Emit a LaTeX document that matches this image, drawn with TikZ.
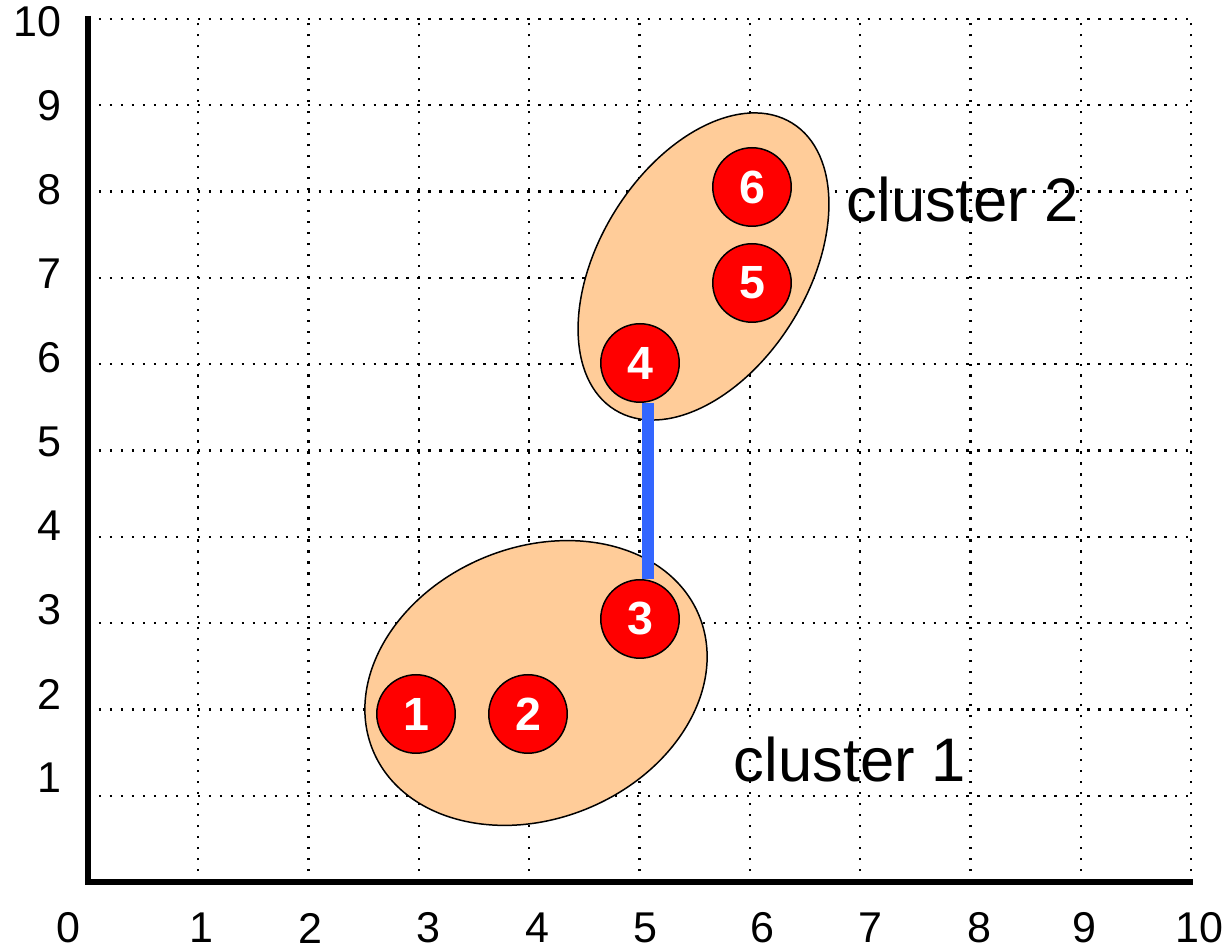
\documentclass[tikz,border=0pt]{standalone}
\usepackage{fontspec}
\setmainfont{Liberation Sans}
\usetikzlibrary{backgrounds}
\definecolor{peach}{HTML}{FFCC99}
\definecolor{lineblue}{HTML}{3366FF}
\definecolor{ptred}{HTML}{FF0000}
\begin{document}
\begin{tikzpicture}[x=0.02cm,y=0.02cm,
  griddot/.style={line width=1.35pt, dash pattern=on 1.35pt off 4.9pt, black},
  axisline/.style={line width=2.9pt, black, line join=miter},
  clusterfill/.style={fill=peach, draw=black, line width=0.85pt},
  datapt/.style={circle, fill=ptred, draw=black, line width=0.85pt, minimum size=1.57cm, inner sep=0pt,
    text=white, font=\fontsize{26.5}{30}\selectfont\bfseries},
  ticklabel/.style={font=\fontsize{24.5}{28}\selectfont, inner sep=0pt},
  clusterlabel/.style={font=\fontsize{35}{40}\selectfont, inner sep=0pt},
  linkline/.style={draw=lineblue, line width=6.8pt}
]
\useasboundingbox (0,0) rectangle (1231,952);

% data points
\node[datapt] (n1) at (416,238) {1};
\node[datapt] (n2) at (528,238) {2};
\node[datapt] (n3) at (640,333) {3};
\node[datapt] (n4) at (640,589) {4};
\node[datapt] (n5) at (752,669) {5};
\node[datapt] (n6) at (752,765) {6};

\begin{pgfonlayer}{background}
  % grid
  \foreach \k in {1,...,10} {
    \draw[griddot] (88,70+86.3*\k) -- (1191,70+86.3*\k);
    \draw[griddot] (88+110.3*\k,70) -- (88+110.3*\k,933);
  }
  % axes
  \draw[axisline] (88,936) -- (88,70) -- (1193,70);
  % clusters
  \draw[clusterfill, rotate around={22.5:(536,269)}] (536,269) ellipse [x radius=3.53cm, y radius=2.714cm];
  \draw[clusterfill, rotate around={58.3:(703.5,685.5)}] (703.5,685.5) ellipse [x radius=3.372cm, y radius=2.088cm];
  % link
  \draw[linkline] ([xshift=0.16cm]n4.south) -- ([xshift=0.16cm]n3.north);
\end{pgfonlayer}

% y tick labels
\foreach \k in {1,...,10} {
  \node[ticklabel, anchor=east] (yl\k) at (62,174+84*\k-84) {\k};
}
% x tick labels
\foreach \k/\xx in {0/68,1/201,2/310,3/428,4/537,5/645,6/762,7/870,8/979,9/1084,10/1199} {
  \node[ticklabel] (xl\k) at (\xx,24) {\k};
}

\node[clusterlabel] (c1) at (850,192) {cluster 1};
\node[clusterlabel] (c2) at (963,752) {cluster 2};
\end{tikzpicture}
\end{document}
